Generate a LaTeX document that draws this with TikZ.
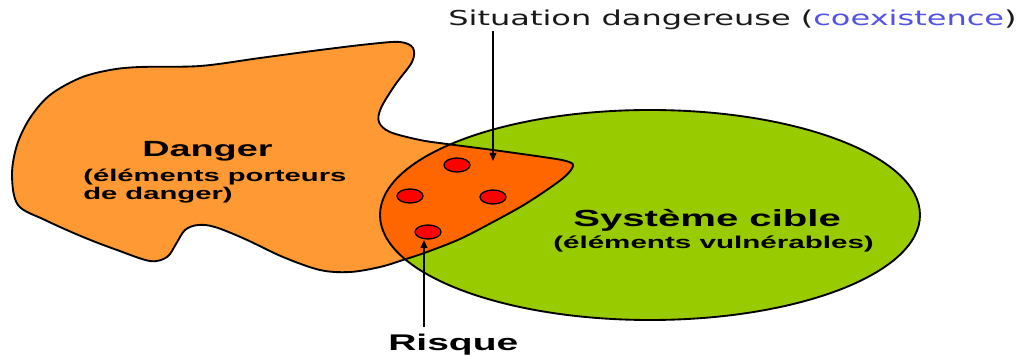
\documentclass[tikz,border=0pt]{standalone}
\usepackage{fontspec}
\usepackage{graphicx}
\usetikzlibrary{arrows.meta}
\newfontfamily\lsans{Liberation Sans}
\newfontfamily\dsans{DejaVu Sans}
\definecolor{dng}{HTML}{FF9933}
\definecolor{lns}{HTML}{FF6600}
\definecolor{cib}{HTML}{99CC00}
\definecolor{dot}{HTML}{FF0000}
\definecolor{blu}{HTML}{5252E4}
\newcommand{\widetxt}[2]{\scalebox{#1}[1]{#2}}
\newcommand{\blob}{plot[smooth cycle,tension=0.55] coordinates{(140,67) (200,66) (260,58) (320,50) (370,44) (400,42) (413,48) (412,62) (395,85) (381,108) (379,122) (390,132) (420,140) (447,144) (493,150) (543,157) (566,161) (573,166) (562,179) (527,203) (493,222) (460,239) (427,252) (403,260) (380,267) (350,272) (320,270) (283,257) (245,239) (215,227) (198,225) (185,230) (176,244) (167,257) (150,261) (117,250) (83,237) (45,220) (18,205) (12,175) (17,145) (30,118) (50,95) (80,78) (110,70)}}
\newcommand{\cible}{(650,215) ellipse [x radius=270,y radius=105]}
\tikzset{t/.style={inner sep=0pt,anchor=base west,font=\lsans\bfseries},
 ol/.style={line width=1.4pt,line join=round},
 ar/.style={line width=1.2pt,-{Triangle[length=6pt,width=5pt]}}}
\begin{document}
\begin{tikzpicture}[x=0.75pt,y=-0.75pt]
\useasboundingbox (0,0) rectangle (1026,356);
% zones
\fill[cib] \cible;
\fill[dng] \blob;
\begin{scope}\clip \cible;\fill[lns] \blob;\end{scope}
\draw[ol] \cible;\draw[ol] \blob;
\foreach\x/\y in {457/165,410/196,493/197,428/232}{\draw[line width=1pt,fill=dot](\x,\y) ellipse [x radius=13,y radius=7];}
% textes
\node[t,font=\dsans\fontsize{15.4pt}{18pt}\selectfont,text=black!90] (sit) at (448,26) {\widetxt{1.56}{Situation dangereuse (\textcolor{blu}{coexistence})}};
\node[t,font=\lsans\bfseries\fontsize{16.5pt}{19pt}\selectfont] (danger) at (142,157) {\widetxt{1.72}{Danger}};
\node[t,font=\lsans\bfseries\fontsize{12.75pt}{13.1pt}\selectfont] (dsub) at (83,182) {\widetxt{1.72}{\begin{tabular}[t]{@{}l@{}}(éléments porteurs\\de danger)\end{tabular}}};
\node[t,font=\lsans\bfseries\fontsize{17.5pt}{20pt}\selectfont] (cib) at (573,227) {\widetxt{1.72}{Système cible}};
\node[t,font=\lsans\bfseries\fontsize{12.9pt}{15pt}\selectfont] (csub) at (553,249) {\widetxt{1.72}{(éléments vulnérables)}};
\node[t,font=\lsans\bfseries\fontsize{17pt}{20pt}\selectfont] (risque) at (388,350) {\widetxt{1.72}{Risque}};
% fleches
\coordinate (sitpt) at (493,161);\coordinate (riskpt) at (424,240);
\draw[ar] (sit.south -| sitpt) -- (sitpt);
\draw[ar] ([yshift=5pt]risque.north -| riskpt) -- (riskpt);
\end{tikzpicture}
\end{document}
